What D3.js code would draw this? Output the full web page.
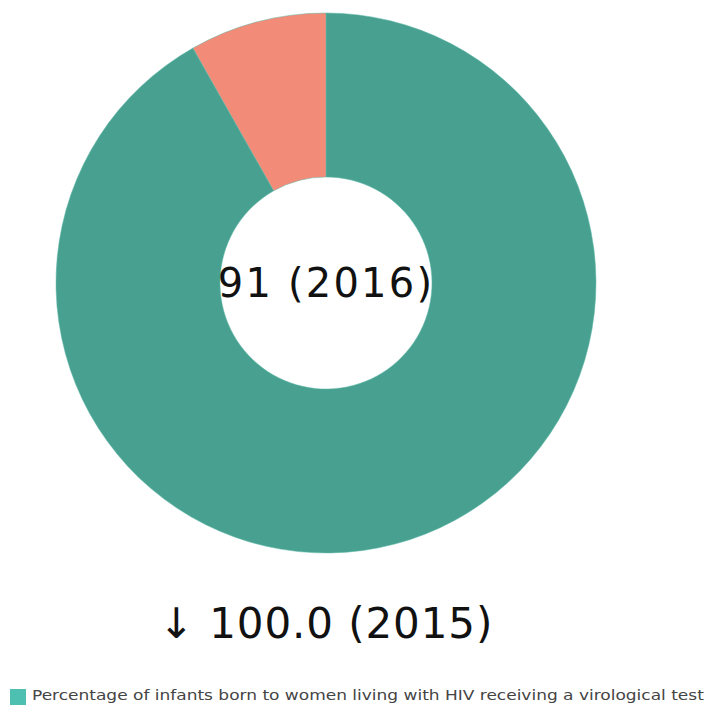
<!DOCTYPE html>
<html>
<head>
<meta charset="utf-8">
<script src="https://cdn.jsdelivr.net/npm/d3@7"></script>
<style>
  body { margin: 0; background: #fff; }
  svg { display: block; font-family: "DejaVu Sans", sans-serif; }
</style>
</head>
<body>
<div class="div-chart"></div>
<script>
// values
const sliceNames = ["Received test", "Not tested"];
const sliceValues = [91.8, 8.2];
const sliceColors = ["#48a090", "#f28b77"];
const centerLabel = "91 (2016)";
const changeLabel = "\u2193 100.0 (2015)";
const legendLabels = ["Percentage of infants born to women living with HIV receiving a virological test"];
const legendColors = ["#4ec0b2"];

const width = 707,
  height = 706;

const svg = d3
  .select(".div-chart")
  .append("svg")
  .attr("width", width)
  .attr("height", height)
  .attr("viewBox", `0 0 ${width} ${height}`);

const cx = 326,
  cy = 283;

const pie = d3.pie().sort(null).value((d) => d);
const arc = d3.arc().innerRadius(106).outerRadius(270);

const colorScale = d3.scaleOrdinal().domain(sliceNames).range(sliceColors);

const donutG = svg.append("g").attr("transform", `translate(${cx},${cy})`);

donutG
  .selectAll("path")
  .data(pie(sliceValues))
  .join("path")
  .attr("d", arc)
  .attr("fill", (d, i) => colorScale(sliceNames[i]))
  .attr("stroke", "#5fb8a8")
  .attr("stroke-width", 0.5);

// center label
donutG
  .append("text")
  .attr("text-anchor", "middle")
  .attr("y", 14)
  .attr("font-size", 40)
  .attr("letter-spacing", 2.2)
  .attr("fill", "#111")
  .text(centerLabel);

// change vs previous year
svg
  .append("text")
  .attr("x", cx)
  .attr("y", 638)
  .attr("text-anchor", "middle")
  .attr("font-size", 42)
  .attr("letter-spacing", 0.9)
  .attr("fill", "#111")
  .text(changeLabel);

// legend
const legendG = svg
  .selectAll(".legend")
  .data(legendLabels)
  .join("g")
  .attr("class", "legend")
  .attr("transform", (d, i) => `translate(10,${689 + i * 20})`);

legendG
  .append("rect")
  .attr("width", 16)
  .attr("height", 16)
  .attr("fill", (d, i) => legendColors[i]);

// the legend font in the reference is wider than DejaVu, so stretch it
legendG
  .append("text")
  .attr("transform", "translate(22,11) scale(1.215,1)")
  .attr("font-size", 14)
  .attr("fill", "#444")
  .text((d) => d);
</script>
</body>
</html>
